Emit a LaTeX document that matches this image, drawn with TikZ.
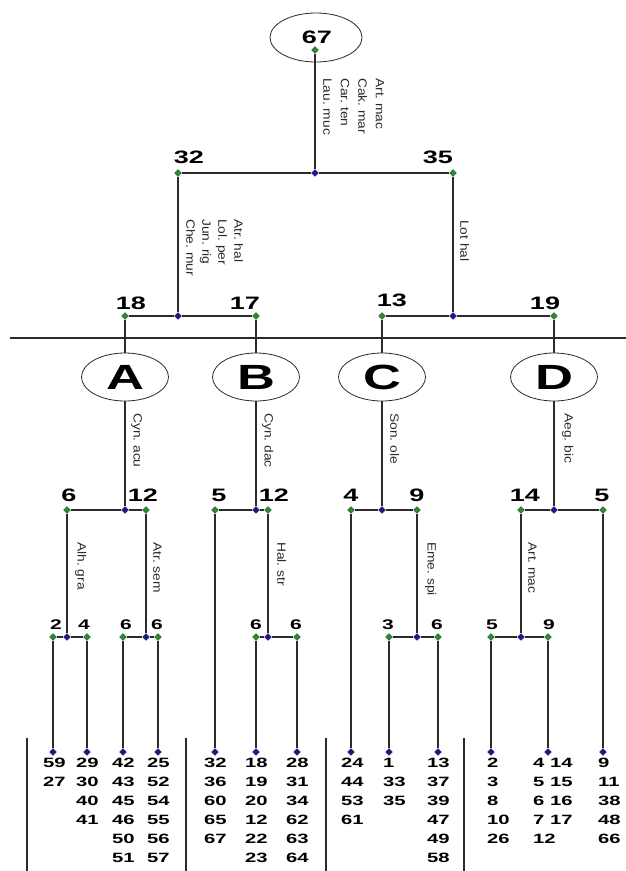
\documentclass[tikz,border=0pt]{standalone}
\usepackage{fontspec}
\setmainfont{Liberation Sans}[FakeStretch=1.5]
\newfontfamily\spfont{Liberation Sans}[FakeStretch=1.15]
\usetikzlibrary{shapes.geometric}
\pgfdeclarelayer{bg}
\pgfsetlayers{bg,main}
\definecolor{lcol}{HTML}{2B2B2B}
\definecolor{gcol}{HTML}{2E8B2E}
\definecolor{bcol}{HTML}{1A1A80}
\tikzset{
 gd/.style={diamond, fill=gcol, draw=gcol!60!black, line width=0.4pt, inner sep=0pt, minimum size=7pt},
 bd/.style={diamond, fill=bcol, draw=bcol, line width=0.4pt, inner sep=0pt, minimum size=7pt},
 ln/.style={draw=lcol, line width=1.6pt},
 num/.style={font=\bfseries\fontsize{18}{20}\selectfont, inner sep=0pt, text=black},
 sm/.style={font=\bfseries\fontsize{14}{16}\selectfont, inner sep=0pt, text=black},
 sp/.style={font=\spfont\frenchspacing\fontsize{12}{16}\selectfont, rotate=-90, anchor=south west, inner sep=0pt, align=left, text=lcol},
 grp/.style={ellipse, draw=lcol, line width=0.8pt, minimum width=87pt, minimum height=48pt, inner sep=0pt, font=\bfseries\fontsize{35}{36}\selectfont},
 leaf/.style={font=\bfseries\fontsize{13.5}{19}\selectfont, anchor=north west, inner sep=0pt, align=left, text=black}
}
\begin{document}
\begin{tikzpicture}[x=1pt,y=-1pt]
\useasboundingbox (0,0) rectangle (626,871);
% root
\node[ellipse, draw=lcol, line width=0.8pt, minimum width=92pt, minimum height=49pt, inner sep=0pt] (root) at (316,37.5) {};
\node[num] (t67) at (317,37) {67};
\node[gd] (g67) at (315,50) {};
\node[bd] (b1) at (315,173) {};
\node[gd] (g32) at (178,173) {};
\node[gd] (g35) at (453,173) {};
\node[num] (t32) at (189,157) {32};
\node[num] (t35) at (438,157) {35};
\node[sp, font=\spfont\frenchspacing\fontsize{12}{17.5}\selectfont] (s1) at (323,78) {Art. mac\\Cak. mar\\Car. ten\\Lau. muc};
% level 2
\node[bd] (b2) at (178,316) {};
\node[gd] (g18) at (125,316) {};
\node[gd] (g17) at (256,316) {};
\node[bd] (b3) at (453,316) {};
\node[gd] (g13) at (382,316) {};
\node[gd] (g19) at (554,316) {};
\node[num] (t18) at (131,303) {18};
\node[num] (t17) at (245,303) {17};
\node[num] (t13) at (392,300) {13};
\node[num] (t19) at (545,303) {19};
\node[sp] (s2) at (186,219) {Atr. hal\\Lol. per\\Jun. rig\\Che. mur};
\node[sp] (s3) at (460,220) {Lot hal};
% separator
\coordinate (sepL) at (10,338);
\coordinate (sepR) at (626,338);
% groups
\node[grp] (A) at (125,377) {A};
\node[grp] (B) at (256,377) {B};
\node[grp] (C) at (382,377) {C};
\node[grp] (D) at (554,377) {D};
\node[sp] (sA) at (131,413) {Cyn. acu};
\node[sp] (sB) at (262,413) {Cyn. dac};
\node[sp] (sC) at (390,413) {Son. ole};
\node[sp] (sD) at (562,413) {Aeg. bic};
% level 3
\node[bd] (bA) at (125,510) {};
\node[gd] (gA6) at (67,510) {};
\node[gd] (gA12) at (146,510) {};
\node[bd] (bB) at (256,510) {};
\node[gd] (gB5) at (215,510) {};
\node[gd] (gB12) at (268,510) {};
\node[bd] (bC) at (382,510) {};
\node[gd] (gC4) at (351,510) {};
\node[gd] (gC9) at (417,510) {};
\node[bd] (bD) at (554,510) {};
\node[gd] (gD14) at (521,510) {};
\node[gd] (gD5) at (603,510) {};
\node[num] (tA6) at (69,495) {6};
\node[num] (tA12) at (143,495) {12};
\node[num] (tB5) at (219,495) {5};
\node[num] (tB12) at (274,495) {12};
\node[num] (tC4) at (351,495) {4};
\node[num] (tC9) at (417,495) {9};
\node[num] (tD14) at (525,495) {14};
\node[num] (tD5) at (602,495) {5};
\node[sp] (sA1) at (75,542) {Alh. gra};
\node[sp] (sA2) at (153,542) {Atr. sem};
\node[sp] (sB2) at (277,542) {Hal. str};
\node[sp] (sC2) at (425,542) {Eme. spi};
\node[sp] (sD1) at (528,542) {Art. mac};
% level 4
\node[bd] (bA6) at (67,637) {};
\node[gd] (gA2) at (53,637) {};
\node[gd] (gA4) at (87,637) {};
\node[bd] (bA12) at (146,637) {};
\node[gd] (gA6a) at (123,637) {};
\node[gd] (gA6b) at (158,637) {};
\node[bd] (bB12) at (268,637) {};
\node[gd] (gB6a) at (256,637) {};
\node[gd] (gB6b) at (297,637) {};
\node[bd] (bC9) at (417,637) {};
\node[gd] (gC3) at (389,637) {};
\node[gd] (gC6) at (438,637) {};
\node[bd] (bD14) at (521,637) {};
\node[gd] (gD5b) at (491,637) {};
\node[gd] (gD9) at (548,637) {};
\node[sm] (tA2) at (56,625) {2};
\node[sm] (tA4) at (84,625) {4};
\node[sm] (tA6a) at (126,625) {6};
\node[sm] (tA6b) at (157,625) {6};
\node[sm] (tB6a) at (256,625) {6};
\node[sm] (tB6b) at (296,625) {6};
\node[sm] (tC3) at (388,625) {3};
\node[sm] (tC6) at (437,625) {6};
\node[sm] (tD5b) at (492,625) {5};
\node[sm] (tD9) at (549,625) {9};
% leaves
\foreach \n/\x in {lA1/53,lA2/87,lA3/123,lA4/158,lB1/215,lB2/256,lB3/297,lC1/351,lC2/389,lC3/438,lD1/491,lD2/548,lD3/603}
  \node[bd] (\n) at (\x,752) {};
\node[leaf] (xA1) at (43,758) {59\\27};
\node[leaf] (xA2) at (76,758) {29\\30\\40\\41};
\node[leaf] (xA3) at (112,758) {42\\43\\45\\46\\50\\51};
\node[leaf] (xA4) at (147,758) {25\\52\\54\\55\\56\\57};
\node[leaf] (xB1) at (204,758) {32\\36\\60\\65\\67};
\node[leaf] (xB2) at (245,758) {18\\19\\20\\12\\22\\23};
\node[leaf] (xB3) at (286,758) {28\\31\\34\\62\\63\\64};
\node[leaf] (xC1) at (341,758) {24\\44\\53\\61};
\node[leaf] (xC2) at (383,758) {1\\33\\35};
\node[leaf] (xC3) at (427,758) {13\\37\\39\\47\\49\\58};
\node[leaf] (xD1) at (487,758) {2\\3\\8\\10\\26};
\node[leaf] (xD2) at (533,758) {4 14\\5 15\\6 16\\7 17\\12};
\node[leaf] (xD3) at (598,758) {9\\11\\38\\48\\66};
% column separators
\foreach \n/\x in {v1/27,v2/186,v3/326,v4/464} {
  \coordinate (\n t) at (\x,738);
  \coordinate (\n b) at (\x,871);
}
\begin{pgfonlayer}{bg}
\fill[white] (0,0) rectangle (626,871);
\draw[ln] (g67) -- (b1);
\draw[ln] (g32) -- (b1) -- (g35);
\draw[ln] (g32) -- (b2);
\draw[ln] (g35) -- (b3);
\draw[ln] (g18) -- (b2) -- (g17);
\draw[ln] (g13) -- (b3) -- (g19);
\draw[draw=lcol, line width=1.4pt] (sepL) -- (sepR);
\draw[ln] (g18) -- (A);
\draw[ln] (g17) -- (B);
\draw[ln] (g13) -- (C);
\draw[ln] (g19) -- (D);
\draw[ln] (A) -- (bA);
\draw[ln] (B) -- (bB);
\draw[ln] (C) -- (bC);
\draw[ln] (D) -- (bD);
\draw[ln] (gA6) -- (bA) -- (gA12);
\draw[ln] (gB5) -- (bB) -- (gB12);
\draw[ln] (gC4) -- (bC) -- (gC9);
\draw[ln] (gD14) -- (bD) -- (gD5);
\draw[ln] (gA6) -- (bA6);
\draw[ln] (gA12) -- (bA12);
\draw[ln] (gB12) -- (bB12);
\draw[ln] (gC9) -- (bC9);
\draw[ln] (gD14) -- (bD14);
\draw[ln] (gA2) -- (bA6) -- (gA4);
\draw[ln] (gA6a) -- (bA12) -- (gA6b);
\draw[ln] (gB6a) -- (bB12) -- (gB6b);
\draw[ln] (gC3) -- (bC9) -- (gC6);
\draw[ln] (gD5b) -- (bD14) -- (gD9);
\draw[ln] (gA2) -- (lA1);
\draw[ln] (gA4) -- (lA2);
\draw[ln] (gA6a) -- (lA3);
\draw[ln] (gA6b) -- (lA4);
\draw[ln] (gB5) -- (lB1);
\draw[ln] (gB6a) -- (lB2);
\draw[ln] (gB6b) -- (lB3);
\draw[ln] (gC4) -- (lC1);
\draw[ln] (gC3) -- (lC2);
\draw[ln] (gC6) -- (lC3);
\draw[ln] (gD5b) -- (lD1);
\draw[ln] (gD9) -- (lD2);
\draw[ln] (gD5) -- (lD3);
\foreach \n in {v1,v2,v3,v4} \draw[draw=lcol, line width=1.4pt] (\n t) -- (\n b);
\end{pgfonlayer}
\end{tikzpicture}
\end{document}
